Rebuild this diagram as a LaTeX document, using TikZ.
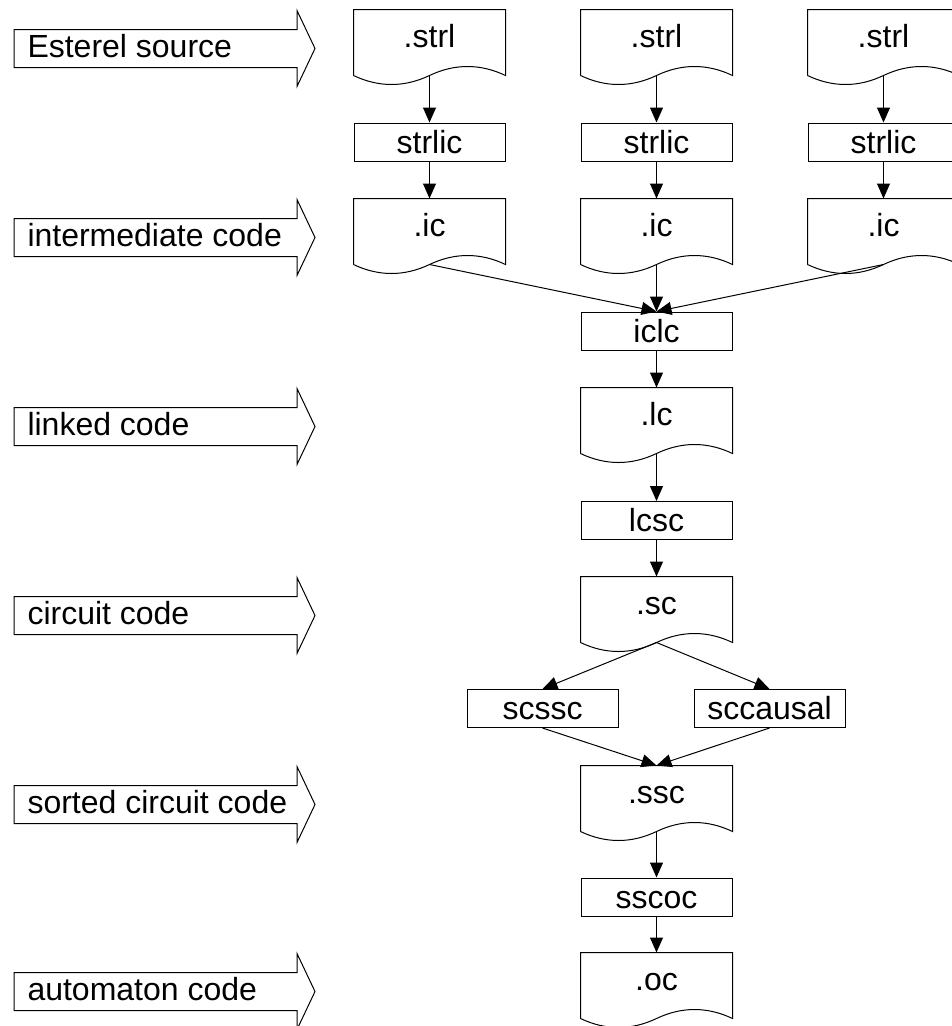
\documentclass[tikz,border=0pt]{standalone}
\usepackage{fontspec}
\setmainfont{Liberation Sans}
\usetikzlibrary{arrows.meta}

\tikzset{
  tool/.style={draw, line width=1pt, minimum width=151pt, minimum height=38pt,
    inner sep=0pt, text height=22pt, text depth=0pt},
  doc/.style={minimum width=151pt, minimum height=65pt, inner sep=0pt,
    text height=22pt, text depth=13pt},
  stagetxt/.style={anchor=west, inner sep=0pt, text height=22pt, text depth=4pt},
  flow/.style={->, line width=1pt}
}

\begin{document}
\begin{tikzpicture}[x=1pt, y=-1pt, >={Triangle[length=15pt,width=13pt]},
    font=\fontsize{32pt}{38pt}\selectfont, line width=1pt]
  \useasboundingbox (0,0) rectangle (952,1026);
  \clip (0,0) rectangle (952,1026);
  % Stage arrows down the left side, one per kind of code
  \foreach \y/\name/\txt in {48.5/esterel/Esterel source, 237.5/inter/intermediate code,
      426.5/linked/linked code, 615.5/circuit/circuit code,
      804.5/sorted/sorted circuit code, 991.5/automaton/automaton code} {
    \draw (14,\y-19) -- (297,\y-19) -- (297,\y-38) -- (315,\y)
      -- (297,\y+38) -- (297,\y+19) -- (14,\y+19) -- cycle;
    \node[stagetxt] (\name) at (27,\y) {\txt};
  }
  % Linking and the rest of the chain
  \node[tool] (iclc) at (656.5,331) {iclc};
  \node[doc] (lc) at (656.5,420.5) {.lc};
  \node[tool] (lcsc) at (656.5,520.5) {lcsc};
  \node[doc] (sc) at (656.5,609.5) {.sc};
  \node[tool] (scssc) at (542.5,708.5) {scssc};
  \node[tool] (sccausal) at (769.5,708.5) {sccausal};
  \node[doc] (ssc) at (656.5,798.5) {.ssc};
  \node[tool] (sscoc) at (656.5,897) {sscoc};
  \node[doc] (oc) at (656.5,985.5) {.oc};
  % Three source files, each compiled on its own
  \foreach \n/\x in {A/429.5, B/656.5, C/883.5} {
    \node[doc] (strl\n) at (\x,42.5) {.strl};
    \node[tool] (strlic\n) at (\x,142) {strlic};
    \node[doc] (ic\n) at (\x,231.5) {.ic};
    \draw[flow] (strl\n.south) -- (strlic\n.north);
    \draw[flow] (strlic\n.south) -- (ic\n.north);
    \draw[flow] (ic\n.south) -- (iclc.north);
  }
  \draw[flow] (iclc) -- (lc);
  \draw[flow] (lc.south) -- (lcsc.north);
  \draw[flow] (lcsc) -- (sc);
  \draw[flow] (sc.south) -- (scssc.north);
  \draw[flow] (sc.south) -- (sccausal.north);
  \draw[flow] (scssc.south) -- (ssc.north);
  \draw[flow] (sccausal.south) -- (ssc.north);
  \draw[flow] (ssc.south) -- (sscoc.north);
  \draw[flow] (sscoc) -- (oc);
  % Document outlines with the wavy bottom edge
  \foreach \d in {strlA,strlB,strlC,icA,icB,icC,lc,sc,ssc,oc}
    \draw (\d.south west) |- (\d.north east) -- (\d.south east)
      .. controls +(-25.2,-12) and +(25.2,-12) .. (\d.south)
      .. controls +(-25.2,12) and +(25.2,12) .. (\d.south west);
\end{tikzpicture}
\end{document}
